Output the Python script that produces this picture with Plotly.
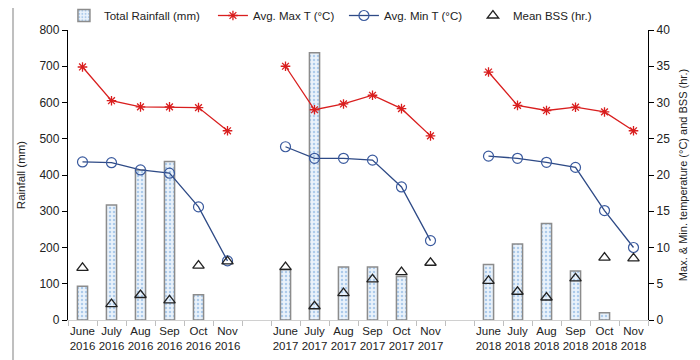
import plotly.graph_objects as go

months = ["June", "July", "Aug", "Sep", "Oct", "Nov"]
years = ["2016", "2017", "2018"]

categories = []
for i, y in enumerate(years):
    for m in months:
        categories.append(f"{m}<br>{y}")
    if i < len(years) - 1:
        categories.append(" " * (i + 1))

rain_2016 = [93, 317, 414, 437, 70, 0]
rain_2017 = [141, 737, 146, 146, 120, 0]
rain_2018 = [153, 210, 266, 135, 20, 0]

maxt_2016 = [34.9, 30.25, 29.4, 29.4, 29.3, 26.1]
maxt_2017 = [35.0, 29.0, 29.8, 31.0, 29.15, 25.4]
maxt_2018 = [34.2, 29.6, 28.9, 29.35, 28.7, 26.1]

mint_2016 = [21.8, 21.7, 20.7, 20.25, 15.6, 8.15]
mint_2017 = [23.9, 22.3, 22.3, 22.05, 18.35, 10.95]
mint_2018 = [22.6, 22.3, 21.75, 21.05, 15.1, 10.0]

bss_2016 = [7.2, 2.2, 3.45, 2.7, 7.5, 8.1]
bss_2017 = [7.3, 1.9, 3.7, 5.6, 6.6, 7.9]
bss_2018 = [5.4, 3.9, 3.1, 5.75, 8.6, 8.5]


def join(a, b, c):
    return a + [None] + b + [None] + c


rain = join(rain_2016, rain_2017, rain_2018)
maxt = join(maxt_2016, maxt_2017, maxt_2018)
mint = join(mint_2016, mint_2017, mint_2018)
bss = join(bss_2016, bss_2017, bss_2018)

FONT = "Liberation Sans, Arial, sans-serif"

bar_line_w = [1.5 if v else 0 for v in rain]

fig = go.Figure()
fig.add_trace(go.Bar(
    x=categories, y=rain, name="Total Rainfall (mm)", width=0.35, legendwidth=104,
    marker=dict(color="#E3EEF9", line=dict(color="#8C8C8C", width=bar_line_w),
                pattern=dict(shape=".", fgcolor="#6FA3DA", bgcolor="#EAF2FB", size=4, solidity=0.3)),
    yaxis="y",
))
fig.add_trace(go.Scatter(
    x=categories, y=maxt, name="Avg. Max T (°C)", mode="lines+markers", yaxis="y2", legendwidth=86,
    line=dict(color="#D91E1E", width=1.3), connectgaps=False,
    marker=dict(symbol="asterisk-open", size=8, color="#D91E1E", line=dict(color="#D91E1E", width=1.3)),
))
fig.add_trace(go.Scatter(
    x=categories, y=mint, name="Avg. Min T (°C)", mode="lines+markers", yaxis="y2", legendwidth=84,
    line=dict(color="#2E4A86", width=1.3), connectgaps=False,
    marker=dict(symbol="circle-open", size=10, color="#3A5A9E", line=dict(color="#3A5A9E", width=1.2)),
))
fig.add_trace(go.Scatter(
    x=categories, y=bss, name="Mean BSS (hr.)", mode="markers", yaxis="y2", legendwidth=80,
    marker=dict(symbol="triangle-up-open", size=10, color="#222222", line=dict(color="#222222", width=1.3)),
))

fig.update_layout(
    width=700, height=360,
    margin=dict(l=60, r=60, t=22, b=48, autoexpand=False),
    paper_bgcolor="white", plot_bgcolor="white",
    font=dict(family=FONT, size=12, color="#222222"),
    showlegend=True,
    legend=dict(orientation="h", x=-0.007, y=1.0, xanchor="left", yanchor="bottom",
                font=dict(size=11.5, family=FONT), bgcolor="rgba(0,0,0,0)",
                traceorder="normal"),
    xaxis=dict(type="category", categoryorder="array", categoryarray=categories,
               tickson="boundaries", ticks="outside", ticklen=5, tickcolor="#BFBFBF",
               showline=True, linecolor="#D0D0D0", linewidth=1, showgrid=False, tickangle=0,
               automargin=False,
               tickfont=dict(size=11.5), range=[-0.5, len(categories) - 0.5]),
    yaxis=dict(range=[0, 800], dtick=100, ticks="outside", ticklen=5, tickcolor="black",
               showline=True, linecolor="black", linewidth=1.3, showgrid=False, zeroline=False,
               automargin=False,
               title=dict(text="Rainfall (mm)", font=dict(size=11.5), standoff=11),
               tickfont=dict(size=12)),
    yaxis2=dict(range=[0, 40], dtick=5, overlaying="y", side="right", ticks="outside", ticklen=5,
                tickcolor="black", showline=True, linecolor="black", linewidth=1.3, showgrid=False,
                zeroline=False, automargin=False,
                title=dict(text="Max. & Min. temperature (°C) and BSS (hr.)", font=dict(size=11), standoff=10),
                tickfont=dict(size=12)),
    bargap=0.65,
)

# outer frame (left, top, right)
fig.add_shape(type="path", xref="paper", yref="paper",
              path="M -0.0948 -0.2 L -0.0948 1.086 L 1.0776 1.086 L 1.0776 -0.2",
              line=dict(color="#BFBFBF", width=2))

fig.write_html("out.html")
